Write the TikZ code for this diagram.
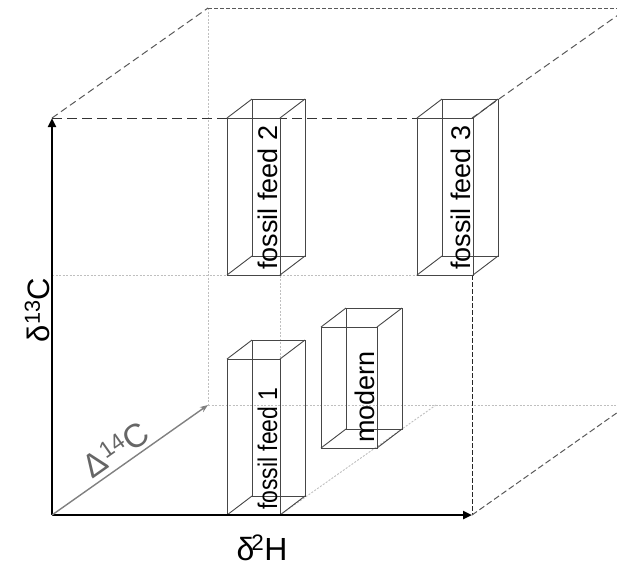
\documentclass[tikz,border=0pt]{standalone}
\usepackage{fontspec}
\setmainfont{Liberation Sans}
\usetikzlibrary{arrows.meta}

\begin{document}
\begin{tikzpicture}[x=1pt,y=-1pt,
  axis/.style={line width=2.6pt,-{Triangle[length=9pt,width=8pt]}},
  edge/.style={gray!70!black,line width=1pt,dash pattern=on 7pt off 4pt},
  faint/.style={gray!50,line width=0.9pt,dash pattern=on 2pt off 1.5pt},
  boxline/.style={gray!55!black,line width=0.9pt},
  feed/.style={font=\fontsize{27}{27}\selectfont,rotate=90,anchor=base west,inner sep=0pt}]
  \clip (0,0) rectangle (617,566);

  % front face and depth
  \coordinate (O) at (52,515);
  \coordinate (Y) at (52,118);
  \coordinate (X) at (472,515);
  \coordinate (XY) at (472,118);
  \coordinate (Z) at (208,405);
  \coordinate (ZY) at (208,8);
  \coordinate (ZX) at (628,405);
  \coordinate (ZXY) at (628,8);

  % guide lines
  \draw[faint] (52,275) -- (472,275);
  \draw[faint] (280,118) -- (280,515);
  \draw[faint] (280,515) -- (436,405);
  \draw[faint] (ZY) -- (Z);
  \draw[faint] (Z) -- (ZX);

  % cube edges
  \draw[edge] (Y) -- (ZY);
  \draw[edge,dash pattern=on 4pt off 2pt] (ZY) -- (ZXY);
  \draw[edge,gray!40!black,dash pattern=on 10pt off 5pt] (Y) -- (417,118);
  \draw[edge] (XY) -- (ZXY);
  \draw[edge,gray!30!black,dash pattern=on 5pt off 2pt] (472,275) -- (X);
  \draw[edge,dash pattern=on 6pt off 3pt] (X) -- (ZX);

  % boxes
  \foreach \x/\y/\h/\w/\name [count=\i] in {
      227/515/156/53/{\scalebox{0.85}[1]{fossil feed 1}},
      227/275/157/53/fossil feed 2,
      417/275/157/56/fossil feed 3,
      321/448/121/56/modern}{
    \draw[boxline] (\x,\y) rectangle ++(\w,-\h);
    \draw[boxline] (\x+25,\y-19) rectangle ++(\w,-\h);
    \foreach \dx/\dy in {0/0,\w/0,0/-\h,\w/-\h}
      \draw[boxline] (\x+\dx,\y+\dy) -- ++(25,-19);
    \node[feed] (feed\i) at (\x+\w-3,\y-5) {\name};
  }

  % axes
  \draw[axis] (O) -- (Y);
  \draw[axis] (O) -- (X);
  \draw[gray,line width=1.4pt,-{Stealth[length=8pt,width=6pt]}] (O) -- (Z)
    node[pos=0.47,sloped,above,inner sep=4pt,text=gray!80!black,
         font=\fontsize{33}{33}\selectfont] (dD) {Δ\textsuperscript{14}C};
  \node[rotate=90,anchor=base,font=\fontsize{31}{31}\selectfont] (dC) at (49,310)
    {δ\textsuperscript{13}C};
  \node[anchor=base,font=\fontsize{32}{32}\selectfont] (dH) at (262,560)
    {δ\kern-3pt\textsuperscript{2}H};
\end{tikzpicture}
\end{document}
